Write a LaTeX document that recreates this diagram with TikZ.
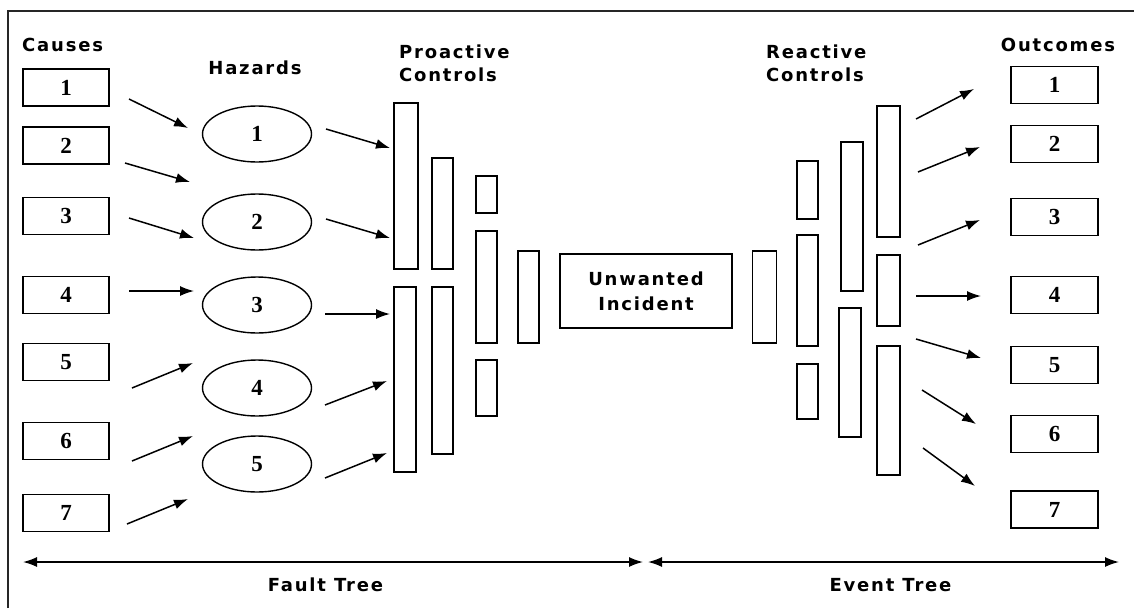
\documentclass[tikz,border=0pt]{standalone}
\usepackage{fontspec}
\usetikzlibrary{arrows.meta,shapes.geometric}
\newfontfamily\headfont[LetterSpace=10]{DejaVu Sans Bold}
\newfontfamily\numfont{Liberation Serif Bold}
\begin{document}
\begin{tikzpicture}[x=1pt,y=-1pt,
  frameline/.style={line width=1.8pt,draw=black!85},
  numbox/.style={draw,rectangle,line width=1.6pt,inner sep=0pt,
    minimum width=86pt,minimum height=37pt,
    font=\numfont\fontsize{23}{23}\selectfont},
  hazard/.style={draw,ellipse,line width=1.4pt,inner sep=0pt,
    minimum width=109pt,minimum height=56pt,
    font=\numfont\fontsize{23}{23}\selectfont},
  bar/.style={draw,rectangle,line width=1.6pt,inner sep=0pt},
  head/.style={inner sep=0pt,align=left,
    font=\headfont\fontsize{18}{23}\selectfont},
  flow/.style={-{Latex[length=14pt,width=10pt]},line width=1.5pt},
  span/.style={{Latex[length=14pt,width=10pt]}-{Latex[length=14pt,width=10pt]},line width=1.5pt}]
\useasboundingbox (0,0) rectangle (1134,608);

% partial frame (top and left edges)
\coordinate (fr-bl) at (8,608);
\coordinate (fr-tl) at (8,11);
\coordinate (fr-tr) at (1134,11);
\draw[frameline] (fr-bl) -- (fr-tl) -- (fr-tr);

% column headings
\node[head,anchor=west] (h-causes) at (22,45) {Causes};
\node[head] (h-hazards) at (255,68) {Hazards};
\node[head,anchor=west] (h-pro) at (399,63.5) {Proactive\\Controls};
\node[head,anchor=west] (h-re) at (766,63.5) {Reactive\\Controls};
\node[head] (h-out) at (1058,45) {Outcomes};

% causes
\node[numbox] (c1) at (66,87.5) {1};
\node[numbox] (c2) at (66,145.5) {2};
\node[numbox] (c3) at (66,216) {3};
\node[numbox] (c4) at (66,295) {4};
\node[numbox] (c5) at (66,362) {5};
\node[numbox] (c6) at (66,441) {6};
\node[numbox] (c7) at (66,513) {7};

% hazards
\node[hazard] (z1) at (257,134) {1};
\node[hazard] (z2) at (257,222) {2};
\node[hazard] (z3) at (257,305) {3};
\node[hazard] (z4) at (257,388) {4};
\node[hazard] (z5) at (257,464) {5};

% proactive control barriers
\node[bar,minimum width=24pt,minimum height=166pt] (p1a) at (406,186) {};
\node[bar,minimum width=22pt,minimum height=185pt] (p1b) at (405,379.5) {};
\node[bar,minimum width=21pt,minimum height=111pt] (p2a) at (442.5,213.5) {};
\node[bar,minimum width=21pt,minimum height=167pt] (p2b) at (442.5,370.5) {};
\node[bar,minimum width=21pt,minimum height=37pt] (p3a) at (486.5,194.5) {};
\node[bar,minimum width=21pt,minimum height=112pt] (p3b) at (486.5,287) {};
\node[bar,minimum width=21pt,minimum height=56pt] (p3c) at (486.5,388) {};
\node[bar,minimum width=21pt,minimum height=92pt] (p4) at (528.5,297) {};

% central event
\node[bar,minimum width=172pt,minimum height=74pt,align=center,
  font=\headfont\fontsize{18}{25}\selectfont] (inc) at (646,291) {Unwanted\\Incident};

% reactive control barriers
\node[bar,minimum width=24pt,minimum height=92pt] (r1) at (764.5,297) {};
\node[bar,minimum width=21pt,minimum height=58pt] (r2a) at (807.5,190) {};
\node[bar,minimum width=21pt,minimum height=111pt] (r2b) at (807.5,290.5) {};
\node[bar,minimum width=21pt,minimum height=55pt] (r2c) at (807.5,391.5) {};
\node[bar,minimum width=22pt,minimum height=149pt] (r3a) at (852,216.5) {};
\node[bar,minimum width=22pt,minimum height=129pt] (r3b) at (850,372.5) {};
\node[bar,minimum width=23pt,minimum height=131pt] (r4a) at (888.5,171.5) {};
\node[bar,minimum width=23pt,minimum height=71pt] (r4b) at (888.5,290.5) {};
\node[bar,minimum width=23pt,minimum height=129pt] (r4c) at (888.5,410.5) {};

% outcomes
\node[numbox,minimum width=87pt] (o1) at (1054.5,85) {1};
\node[numbox,minimum width=87pt] (o2) at (1054.5,144) {2};
\node[numbox,minimum width=87pt] (o3) at (1054.5,217) {3};
\node[numbox,minimum width=87pt] (o4) at (1054.5,295) {4};
\node[numbox,minimum width=87pt] (o5) at (1054.5,365) {5};
\node[numbox,minimum width=87pt] (o6) at (1054.5,434) {6};
\node[numbox,minimum width=87pt] (o7) at (1054.5,509.5) {7};

% arrow end points: causes -> hazards
\coordinate (a1s) at (129,99);  \coordinate (a1e) at (188,128);
\coordinate (a2s) at (125,163); \coordinate (a2e) at (190,182);
\coordinate (a3s) at (129,218); \coordinate (a3e) at (194,238);
\coordinate (a4s) at (129,291); \coordinate (a4e) at (194,291);
\coordinate (a5s) at (132,388); \coordinate (a5e) at (193,363);
\coordinate (a6s) at (132,461); \coordinate (a6e) at (193,436);
\coordinate (a7s) at (127,524); \coordinate (a7e) at (188,499);
\foreach \i in {1,...,7} \draw[flow] (a\i s) -- (a\i e);

% hazards -> proactive controls
\coordinate (b1s) at (326,129); \coordinate (b1e) at (390,148);
\coordinate (b2s) at (326,219); \coordinate (b2e) at (390,238);
\coordinate (b3s) at (325,314); \coordinate (b3e) at (390,314);
\coordinate (b4s) at (325,405); \coordinate (b4e) at (387,381);
\coordinate (b5s) at (325,478); \coordinate (b5e) at (387,453);
\foreach \i in {1,...,5} \draw[flow] (b\i s) -- (b\i e);

% reactive controls -> outcomes
\coordinate (d1s) at (916,119); \coordinate (d1e) at (974,89);
\coordinate (d2s) at (918,172); \coordinate (d2e) at (980,147);
\coordinate (d3s) at (918,245); \coordinate (d3e) at (980,220);
\coordinate (d4s) at (916,296); \coordinate (d4e) at (981,296);
\coordinate (d5s) at (916,339); \coordinate (d5e) at (981,358);
\coordinate (d6s) at (922,390); \coordinate (d6e) at (976,424);
\coordinate (d7s) at (923,448); \coordinate (d7e) at (975,486);
\foreach \i in {1,...,7} \draw[flow] (d\i s) -- (d\i e);

% extent arrows
\coordinate (ft-l) at (23,562);  \coordinate (ft-r) at (643,562);
\coordinate (et-l) at (648,562); \coordinate (et-r) at (1119,562);
\draw[span] (ft-l) -- (ft-r);
\draw[span] (et-l) -- (et-r);
\node[head] (l-fault) at (325.5,585) {Fault Tree};
\node[head] (l-event) at (890.5,585) {Event Tree};
\end{tikzpicture}
\end{document}
